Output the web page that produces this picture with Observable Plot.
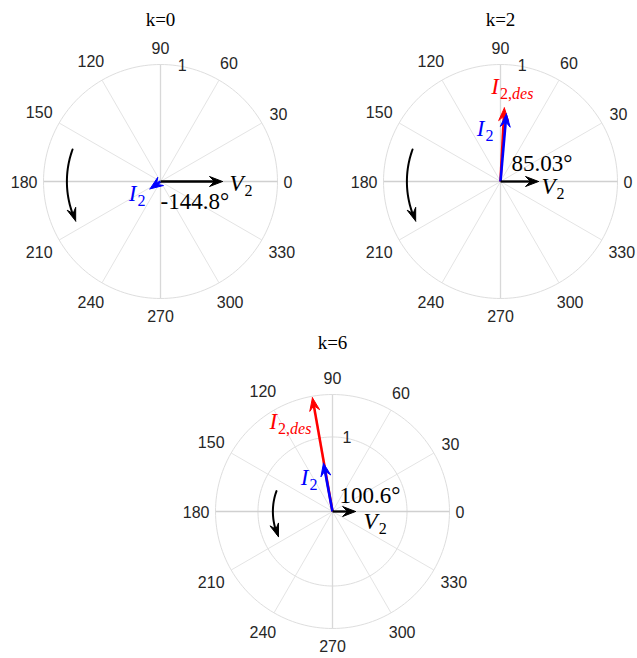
<!DOCTYPE html>
<html><head><meta charset="utf-8">
<script src="https://cdn.jsdelivr.net/npm/d3@7"></script>
<script src="https://cdn.jsdelivr.net/npm/@observablehq/plot@0.6"></script>
<style>
body{margin:0;background:#fff}
#wrap{position:relative;width:637px;height:658px;overflow:hidden;background:#fff}
.panel{position:absolute}
</style></head><body><div id="wrap"></div>
<script>
// ---------------- data ----------------
const panelTitles = ["k=0", "k=2", "k=6"];
const rLimits = [1, 1, 1.57];
const rTickValues = [1];
const thetaTickValues = [0, 30, 60, 90, 120, 150, 180, 210, 240, 270, 300, 330];
const v2Magnitude = [0.53, 0.325, 0.31];
const v2Angle = [0, 0, 0];
const i2Magnitude = [0.11, 0.58, 0.66];
const i2Angle = [-144.8, 85.03, 100.6];
const i2desMagnitude = [null, 0.63, 1.55];
const i2desAngle = [null, 87, 100];
const phaseLabels = ["-144.8°", "85.03°", "100.6°"];
const vectorNames = ["V_2", "I_2", "I_{2,des}"];
const rotationRadius = 0.8;
const rotationFrom = 160;
const rotationTo = 205;

// ---------------- layout (code, not data) ----------------
const OUTER_PX = 117, W = 320, H = 340, OX = 160, OY = 181;
const centers = [[160, 181], [500, 181], [332, 511]];
const titleBaseline = [25, 25, 18];
// label nudges in px: [dx, baselineOffset]
const nudges = [
  {v2: [7, 9], i2: [-4.5, 11.6], des: null, phase: [0, 27]},
  {v2: [3, 12], i2: [-13, 21.6], des: [-13, -14.4], phase: [11, -11]},
  {v2: [8, 17], i2: [-6, 21.4], des: [-1, 31], phase: [7, -9]}
];
const MATH = "'Liberation Serif', 'Times New Roman', serif";
const SANS = "'Liberation Sans', Arial, Helvetica, sans-serif";
const MFS = 23, SUBFS = 16;

const rad = a => a * Math.PI / 180;
const polar = (r, a) => [r * Math.cos(rad(a)), r * Math.sin(rad(a))];

function headPoints(tip, ang, s, L, hw, notch) {
  const u = [Math.cos(rad(ang)), Math.sin(rad(ang))], n = [-u[1], u[0]];
  const P = (a, b) => ({x: tip[0] - a / s * u[0] + b / s * n[0], y: tip[1] - a / s * u[1] + b / s * n[1]});
  return [P(0, 0), P(L, hw), P(notch, 0), P(L, -hw), P(0, 0)];
}

function vectorMarks(mag, ang, color, sw, s) {
  const rec = [{mag, ang}];
  const tip = polar(mag, ang);
  return [
    Plot.link(rec, {x1: d => 0, y1: d => 0,
      x2: d => polar(d.mag - 7 / s, d.ang)[0], y2: d => polar(d.mag - 7 / s, d.ang)[1],
      stroke: color, strokeWidth: sw, strokeLinecap: "butt"}),
    Plot.line(headPoints(tip, ang, s, 13, 5, 8), {x: "x", y: "y", fill: color, stroke: color, strokeWidth: 1, strokeLinejoin: "miter", curve: "linear"})
  ];
}

function labelMark(mag, ang, text, color, anchor, nudge) {
  return Plot.text([{mag, ang, text}], {
    x: d => polar(d.mag, d.ang)[0], y: d => polar(d.mag, d.ang)[1], text: "text",
    fill: color, fontFamily: MATH, fontSize: MFS, textAnchor: anchor, lineAnchor: "middle",
    dx: nudge[0], dy: nudge[1] - 0.32 * MFS
  });
}

function mathify(svg) {
  d3.select(svg).selectAll("text").each(function() {
    const t = this.textContent;
    const m = t.match(/^([A-Za-z])_\{?([^}]*)\}?$/);
    if (!m) return;
    const el = d3.select(this);
    el.text(null);
    el.append("tspan").attr("font-style", "italic").text(m[1]);
    const mm = m[2].match(/^([0-9,]*)(.*)$/);
    el.append("tspan").attr("font-size", SUBFS).attr("dy", 5).attr("dx", 1).text(mm[1]);
    if (mm[2]) el.append("tspan").attr("font-size", SUBFS).attr("font-style", "italic").text(mm[2]);
  });
}

function panel(i) {
  const R = rLimits[i], s = OUTER_PX / R;
  const circleRadii = [...rTickValues.filter(t => t < R - 1e-9), R];
  const circlePts = [];
  for (const r of circleRadii) for (let a = 0; a <= 360; a += 2) {
    const [x, y] = polar(r, a); circlePts.push({r, x, y});
  }
  const thetaLabelR = a => {
    const w = 0.556 * 16 * String(a).length, h = 22;
    return (OUTER_PX + 6 + 0.5 * (w * Math.abs(Math.cos(rad(a))) + h * Math.abs(Math.sin(rad(a))))) / s;
  };
  const arc = [];
  for (let a = rotationFrom; a <= rotationTo - 3; a += 1) {
    const [x, y] = polar(rotationRadius, a); arc.push({x, y});
  }
  const arcTip = polar(rotationRadius, rotationTo);
  const arcDir = rotationTo + 90 - 6;
  const nd = nudges[i];

  const marks = [
    Plot.line(circlePts, {x: "x", y: "y", z: "r", stroke: "#dedede", strokeWidth: 1}),
    Plot.link(thetaTickValues, {x1: d => 0, y1: d => 0,
      x2: d => polar(R, d)[0], y2: d => polar(R, d)[1],
      stroke: d => d % 180 === 0 ? "#d0d0d0" : d % 90 === 0 ? "#d8d8d8" : "#e4e4e4",
      strokeWidth: d => d % 180 === 0 ? 1.7 : d % 90 === 0 ? 1.3 : 1}),
    Plot.text(thetaTickValues, {x: d => polar(thetaLabelR(d), d)[0], y: d => polar(thetaLabelR(d), d)[1],
      text: d => String(d), fontFamily: SANS, fontSize: 16, fill: "#262626", lineAnchor: "middle", dy: 1}),
    Plot.text(rTickValues, {x: d => polar(d, 80)[0], y: d => polar(d, 80)[1], text: d => String(d),
      fontFamily: SANS, fontSize: 16, fill: "#262626", textAnchor: "start", lineAnchor: "middle", dx: -3}),
    Plot.text([panelTitles[i]], {frameAnchor: "top", lineAnchor: "middle", text: d => d, fontFamily: MATH, fontSize: 19,
      fill: "#000", dy: titleBaseline[i] - 0.32 * 19}),
    // rotation arrow
    Plot.line(arc, {x: "x", y: "y", stroke: "black", strokeWidth: 2}),
    Plot.line(headPoints(arcTip, arcDir, s, 13, 4.5, 8), {x: "x", y: "y", fill: "black", stroke: "black", strokeWidth: 1})
  ];
  if (i2desMagnitude[i] != null) marks.push(...vectorMarks(i2desMagnitude[i], i2desAngle[i], "#ff0000", 2.6, s));
  marks.push(...vectorMarks(i2Magnitude[i], i2Angle[i], "#0000ff", 2.6, s));
  marks.push(...vectorMarks(v2Magnitude[i], v2Angle[i], "#000000", 2.3, s));
  marks.push(labelMark(v2Magnitude[i], v2Angle[i], vectorNames[0], "#000", "start", nd.v2));
  marks.push(labelMark(i2Magnitude[i], i2Angle[i], vectorNames[1], "#0000ff", "end", nd.i2));
  if (i2desMagnitude[i] != null) marks.push(labelMark(i2desMagnitude[i], i2desAngle[i], vectorNames[2], "#ff0000", i === 1 ? "start" : "end", nd.des));
  marks.push(labelMark(0, 0, phaseLabels[i], "#000", "start", nd.phase));

  const svg = Plot.plot({
    width: W, height: H, margin: 0,
    x: {domain: [-OX / s, (W - OX) / s], range: [0, W], axis: null},
    y: {domain: [-(H - OY) / s, OY / s], range: [H, 0], axis: null},
    style: {background: "none", overflow: "visible", maxWidth: "none"},
    marks
  });
  mathify(svg);
  svg.classList.add("panel");
  svg.style.left = (centers[i][0] - OX) + "px";
  svg.style.top = (centers[i][1] - OY) + "px";
  svg.style.position = "absolute";
  return svg;
}

const wrap = document.getElementById("wrap");
for (let i = 0; i < 3; i++) wrap.appendChild(panel(i));
</script></body></html>
